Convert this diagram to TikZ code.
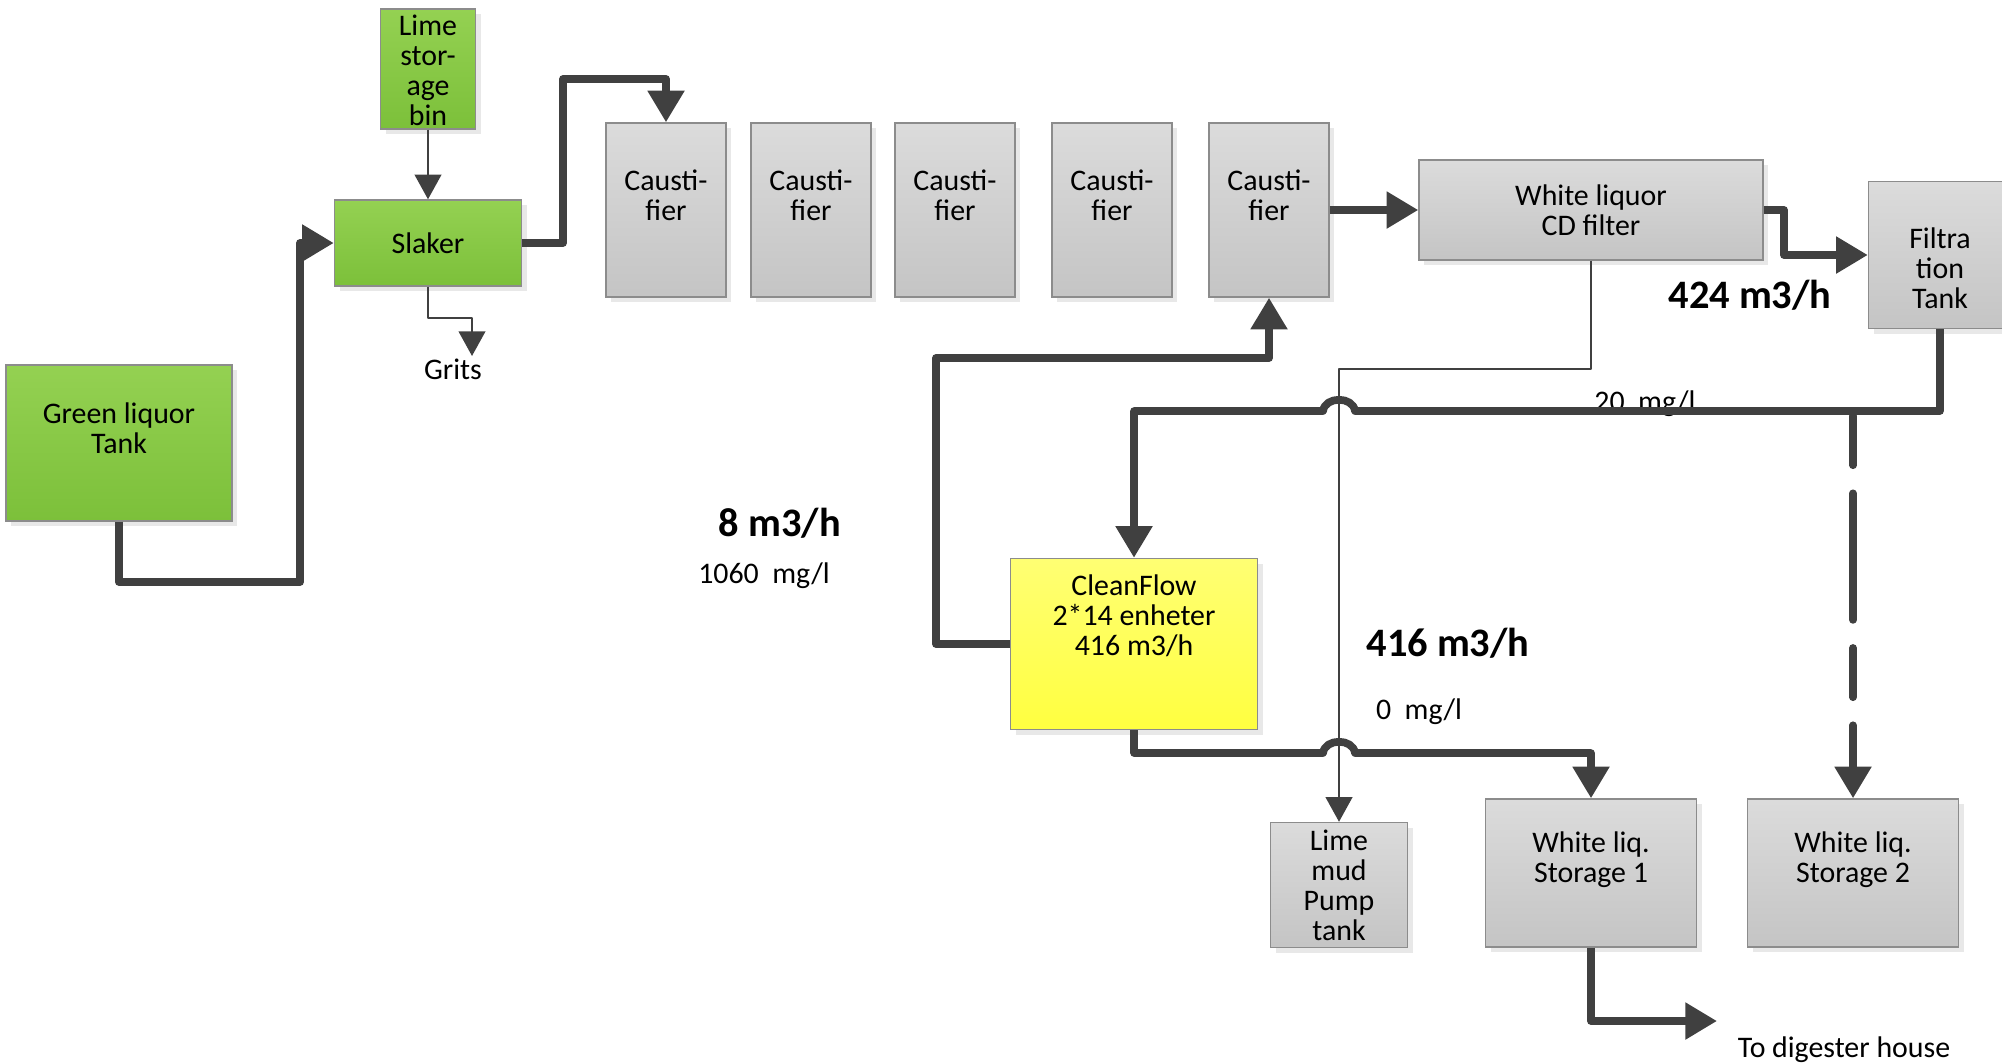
\documentclass[tikz,border=0pt]{standalone}
\usepackage{fontspec}
\setmainfont{Carlito}
\usepackage{tikz}
\usetikzlibrary{arrows.meta, shadows}

\definecolor{flowgray}{HTML}{404040}
\definecolor{limetop}{HTML}{94D152}
\definecolor{limebot}{HTML}{7CC03A}
\definecolor{yeltop}{HTML}{FFFF73}
\definecolor{yelbot}{HTML}{FFFF40}

\begin{document}
\begin{tikzpicture}[x=0.1mm, y=-0.1mm,
		unit/.style={draw=black!45, inner sep=0pt,
			drop shadow={shadow xshift=0.5mm, shadow yshift=-0.5mm, opacity=0.18}},
		greybox/.style={unit, top color=black!14, bottom color=black!23},
		greenbox/.style={unit, top color=limetop, bottom color=limebot},
		yellowbox/.style={unit, top color=yeltop, bottom color=yelbot},
		txt/.style={font=\fontsize{8.5}{8.5}\selectfont, align=center, inner sep=0pt},
		rate/.style={font=\fontsize{11.5}{13}\selectfont\bfseries, inner sep=0pt},
		mainflow/.style={flowgray, line width=2.2pt, line join=round,
			-{Triangle[length=9pt, width=10pt]}},
		sideflow/.style={flowgray, line width=0.8pt, line join=round,
			-{Triangle[length=7pt, width=7.5pt]}}]
	
	\useasboundingbox (0,0) rectangle (2002,1063);
	
	% green line units
	\node[greenbox, minimum width=9.5mm, minimum height=12mm] (lime) at (428,69) {};
	\node[txt] (limet) at (428,70) {Lime\\stor-\\age\\bin};
	\node[greenbox, minimum width=18.7mm, minimum height=8.6mm] (slaker) at (428,243) {};
	\node[txt] (slakert) at (428,243) {Slaker};
	\node[greenbox, minimum width=22.6mm, minimum height=15.6mm] (green) at (119,443) {};
	\node[txt] (greent) at (119,428) {Green liquor\\Tank};
	\node[txt] (grits) at (453,369) {Grits};
	
	% causticizing train
	\foreach \x [count=\i] in {666,811,955,1112,1269} {
		\node[greybox, minimum width=12mm, minimum height=17.4mm] (c\i) at (\x,210) {};
		\node[txt] (ct\i) at (\x,195) {Causti-\\fier};
	}
	
	\node[greybox, minimum width=34.4mm, minimum height=10mm] (cd) at (1591,210) {};
	\node[txt] (cdt) at (1591,210) {White liquor\\CD filter};
	\node[greybox, minimum width=13.9mm, minimum height=14.7mm] (filt) at (1938,255) {};
	\node[txt] (filtt) at (1940,268) {Filtra\\tion\\Tank};
	
	\node[yellowbox, minimum width=24.7mm, minimum height=17.1mm] (clean) at (1134,644) {};
	\node[txt] (cleant) at (1134,616) {CleanFlow\\2*14 enheter\\416 m3/h};
	
	\node[greybox, minimum width=13.7mm, minimum height=12.5mm] (mud) at (1339,885) {};
	\node[txt] (mudt) at (1339,885) {Lime\\mud\\Pump\\tank};
	\node[greybox, minimum width=21.1mm, minimum height=14.8mm] (st1) at (1591,873) {};
	\node[txt] (st1t) at (1591,860) {White liq.\\Storage 1};
	\node[greybox, minimum width=21.1mm, minimum height=14.8mm] (st2) at (1853,873) {};
	\node[txt] (st2t) at (1853,860) {White liq.\\Storage 2};
	
	% flow rates
	\node[rate] (q424) at (1750,295) {424 m3/h};
	\node[txt] (c20) at (1645,404) {20\ \ mg/l};
	\node[rate] (q8) at (780,523) {8 m3/h};
	\node[txt] (c1060) at (764,576) {1060\ \ mg/l};
	\node[rate] (q416) at (1448,643) {416 m3/h};
	\node[txt] (c0) at (1419,712) {0\ \ mg/l};
	\node[txt] (digester) at (1844,1050) {To digester house};
	
	% connectors
	\draw[mainflow] (green.south) |- (300,582) |- (slaker.west);
	\draw[sideflow] (lime.south) -- (slaker.north);
	\draw[sideflow] (slaker.south) |- (472,318) -- (472,356);
	\draw[mainflow] (slaker.east) -| (563,79) -| (c1.north);
	\draw[mainflow] (c5.east |- cd.west) -- (cd.west);
	\draw[mainflow] (cd.east) -| (1784,255) -- (filt.west);
	
	\draw[sideflow] (cd.south) |- (1339,369) -- (mud.north);
	\draw[mainflow] (filt.south -| 1940,0) |- (1355,411)
		.. controls (1353,396) and (1325,396) .. (1323,411) -| (clean.north);
	\draw[mainflow, dash pattern=on 14pt off 8pt on 36pt off 8pt, line cap=round]
		(1853,416) -- (st2.north);
	\draw[mainflow] (clean.west) -| (936,358) -| (c5.south);
	\draw[mainflow] (clean.south) |- (1323,753)
		.. controls (1325,738) and (1353,738) .. (1355,753) -| (st1.north);
	\draw[mainflow] (st1.south) |- (1717,1021);
	
\end{tikzpicture}
\end{document}
